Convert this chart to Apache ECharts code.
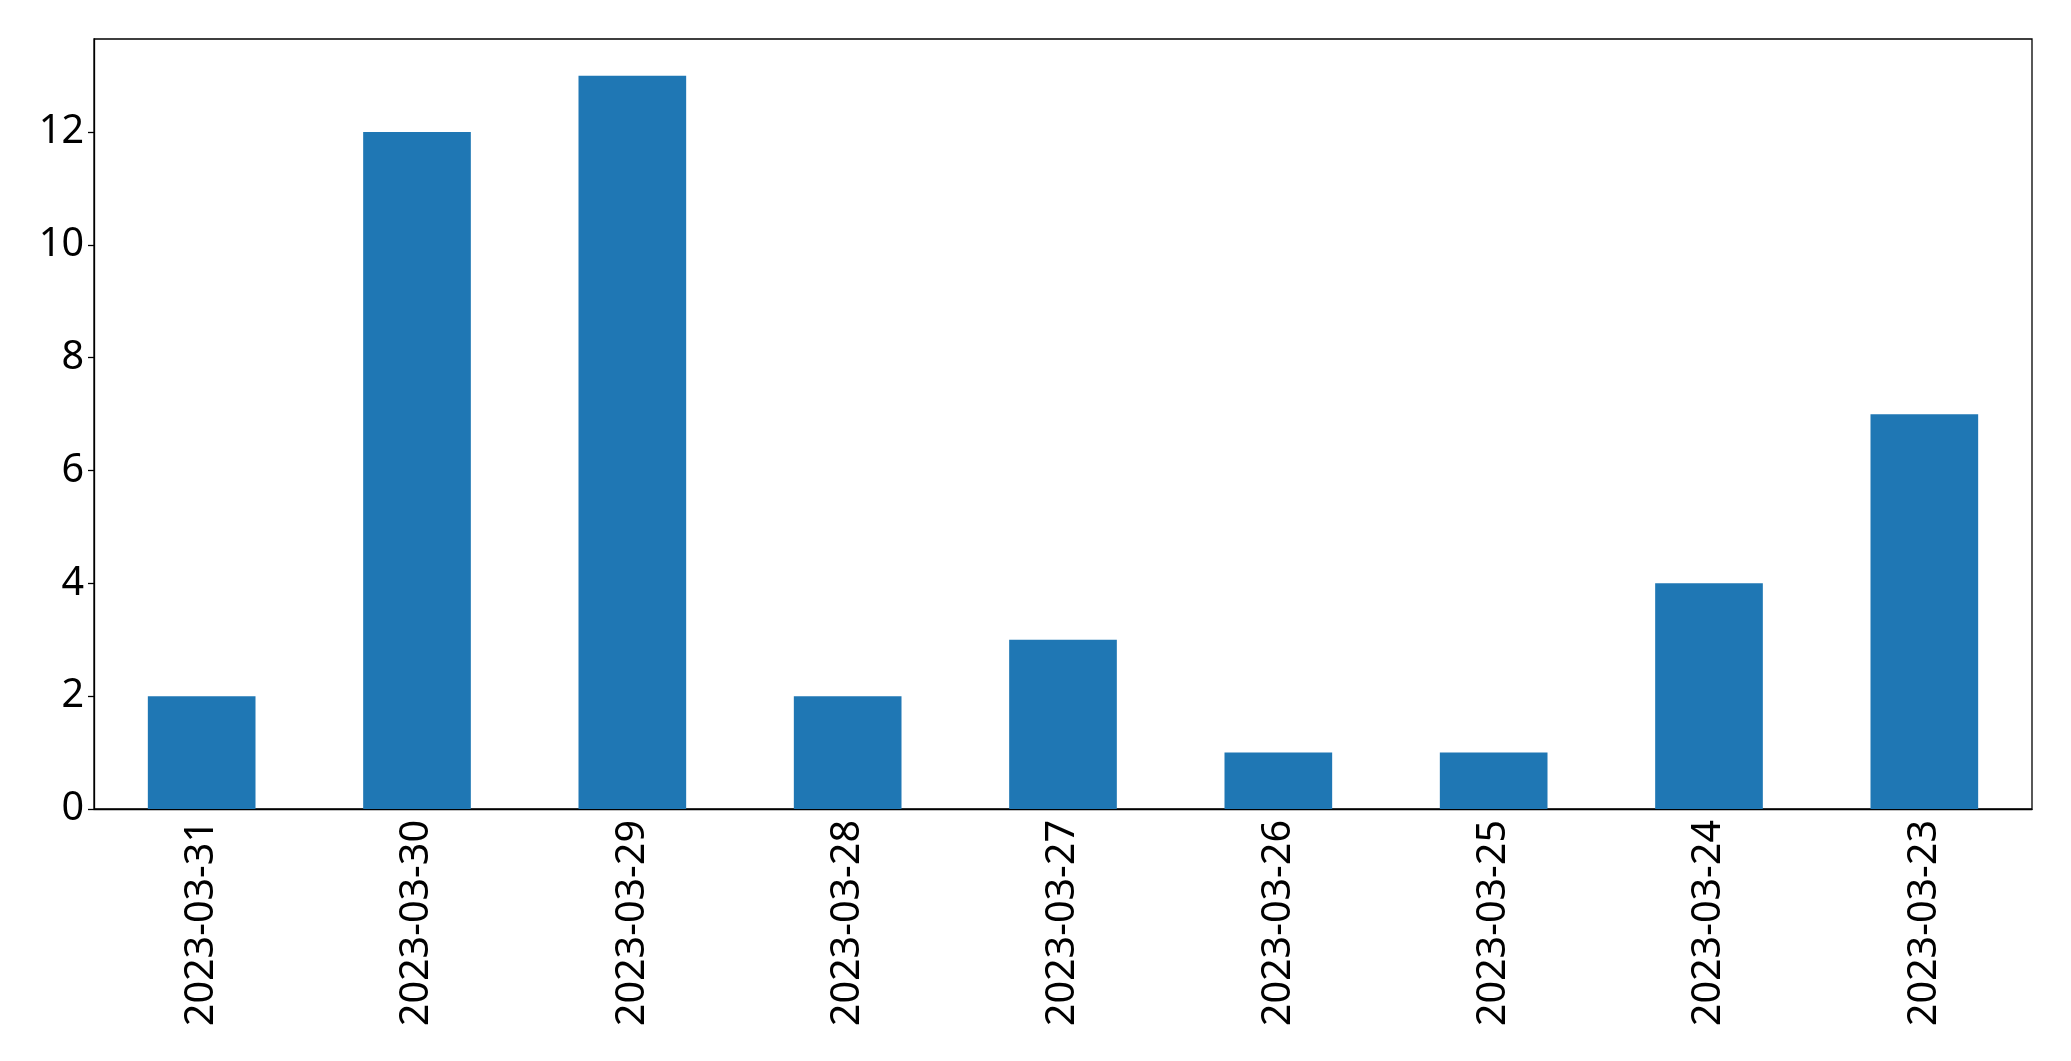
<!DOCTYPE html>
<html><head><meta charset="utf-8">
<script src="https://cdn.jsdelivr.net/npm/echarts@6/dist/echarts.min.js"></script>
<style>html,body{margin:0;padding:0;background:#fff}#c{width:2071px;height:1061px}</style>
</head><body><div id="c"></div>
<script>
const categories = ['2023-03-31','2023-03-30','2023-03-29','2023-03-28','2023-03-27','2023-03-26','2023-03-25','2023-03-24','2023-03-23'];
const values = [2,12,13,2,3,1,1,4,7];
const yTicks = [0,2,4,6,8,10,12];

const chart = echarts.init(document.getElementById('c'), null, {renderer:'canvas'});
chart.setOption({
  animation:false,
  backgroundColor:'#fff',
  grid:{left:94,right:39,top:39,bottom:252,show:true,borderColor:'#000',borderWidth:1.3,backgroundColor:'transparent'},
  xAxis:{type:'category',data:categories,
    axisLine:{lineStyle:{color:'#000',width:1.3}},
    axisTick:{alignWithLabel:true,length:6,lineStyle:{color:'#000',width:1.3}},
    axisLabel:{rotate:90,margin:11,color:'#000',fontFamily:'Noto Sans',fontSize:39.5,interval:0}},
  yAxis:{type:'value',min:0,max:13.65,
    splitLine:{show:false},
    axisLine:{show:true,lineStyle:{color:'#000',width:1.3}},
    axisTick:{show:true,length:6,customValues:yTicks,lineStyle:{color:'#000',width:1.3}},
    axisLabel:{margin:10,color:'#000',fontFamily:'Noto Sans',fontSize:39.5,customValues:yTicks}},
  series:[{type:'bar',data:values,barWidth:'50%',itemStyle:{color:'#1f77b4'}}]
});
</script></body></html>
